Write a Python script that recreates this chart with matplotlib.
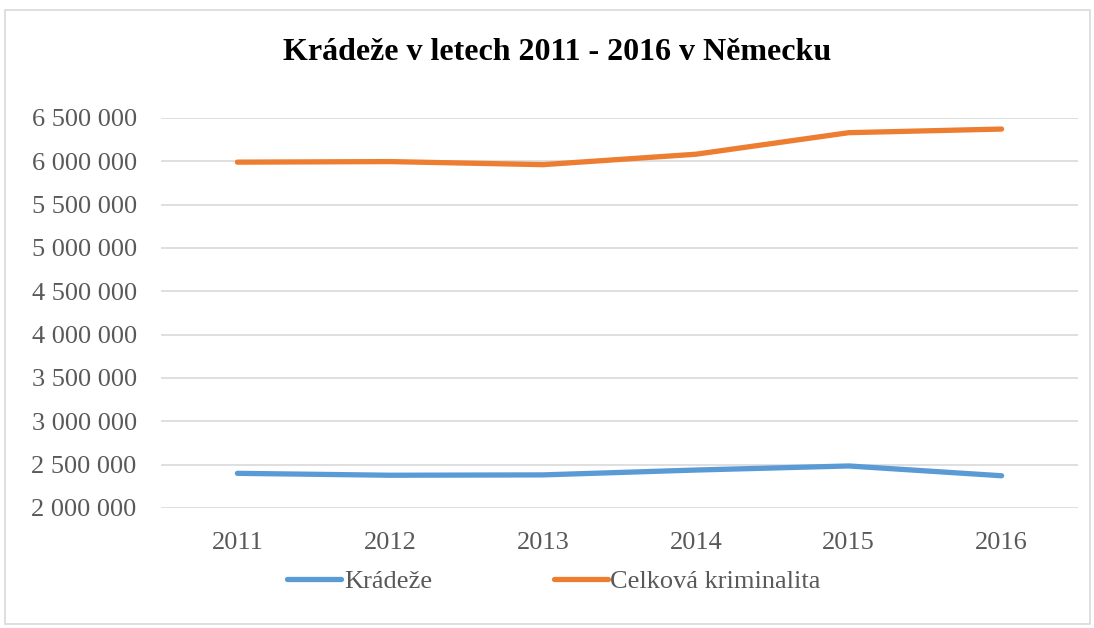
import matplotlib.pyplot as plt
from matplotlib.patches import Rectangle
from matplotlib.ticker import FuncFormatter

years = ["2011", "2012", "2013", "2014", "2015", "2016"]
kradeze = [2400000, 2378000, 2382000, 2438000, 2485000, 2372000]
celkova = [5990679, 5997040, 5961662, 6082064, 6330649, 6372526]

plt.rcParams['font.family'] = ['Liberation Serif', 'DejaVu Serif']
text_color = '#595959'
grid_color = '#d9d9d9'

W, H = 1094, 628
fig = plt.figure(figsize=(W / 100, H / 100), dpi=100)

# outer chart border
fig.patches.append(Rectangle((5 / W, 4 / H), 1085 / W, 614 / H, transform=fig.transFigure,
                             fill=False, edgecolor=grid_color, linewidth=1.2))

ax = fig.add_axes([161 / W, (H - 508) / H, (1078 - 161) / W, (508 - 118) / H])

x = range(len(years))
ax.plot(x, kradeze, color='#5b9bd5', linewidth=3.8, solid_capstyle='round', label='Krádeže')
ax.plot(x, celkova, color='#ed7d31', linewidth=3.8, solid_capstyle='round', label='Celková kriminalita')

ax.set_xlim(-0.5, len(years) - 0.5)
ax.set_ylim(2000000, 6500000)
ax.set_yticks(range(2000000, 6500001, 500000))
ax.yaxis.set_major_formatter(FuncFormatter(lambda v, p: f"{int(v):,}".replace(",", " ")))
ax.set_xticks(list(x))
ax.set_xticklabels(years)

ax.grid(axis='y', color=grid_color, linewidth=1.2)
ax.set_axisbelow(True)
for s in ax.spines.values():
    s.set_visible(False)
ax.tick_params(axis='both', length=0, labelsize=19, colors=text_color)
ax.tick_params(axis='y', pad=17.5)
ax.tick_params(axis='x', pad=17)

fig.text(557 / W, (H - 52) / H, "Krádeže v letech 2011 - 2016 v Německu", ha='center', va='center',
         fontsize=23, fontweight='bold', color='black')

leg = ax.legend(loc='center', bbox_to_anchor=(554 / W, (H - 581) / H), bbox_transform=fig.transFigure,
                ncol=2, frameon=False, fontsize=19, handlelength=2.05, handletextpad=0.1,
                columnspacing=4.6, labelcolor=text_color)

fig.savefig('out.png', dpi=100)
